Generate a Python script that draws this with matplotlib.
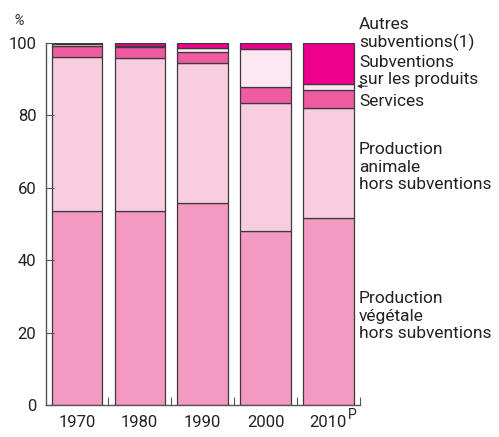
import numpy as np
import matplotlib.pyplot as plt

plt.rcParams['font.family'] = ['Roboto', 'DejaVu Sans']

# Données (% de la production)
annees = ["1970", "1980", "1990", "2000", "2010"]
suffixe_provisoire = "P"
vegetale = [53.6, 53.5, 55.8, 48.0, 51.5]
animale = [42.6, 42.2, 38.5, 35.4, 30.6]
services = [3.0, 3.1, 3.2, 4.5, 4.9]
subv_produits = [0.5, 0.3, 1.0, 10.3, 1.5]
autres_subv = [0.3, 0.9, 1.5, 1.8, 11.5]

series = [vegetale, animale, services, subv_produits, autres_subv]
couleurs = ["#f49ac2", "#f9cde0", "#ef5ba1", "#fde8f1", "#ec008c"]

fig = plt.figure(figsize=(4.99, 4.37), dpi=100)
ax = fig.add_axes([0.0922, 0.0732, 0.629, 0.829])

x = np.arange(len(annees))
bas = np.zeros(len(annees))
for vals, c in zip(series, couleurs):
    ax.bar(x, vals, bottom=bas, width=0.8, color=c, edgecolor="#3a3a3a", linewidth=0.9)
    bas += np.array(vals)

ax.set_xlim(-0.49, 4.5)
ax.set_ylim(0, 100)
for s in ["top", "right"]:
    ax.spines[s].set_visible(False)
for s in ["left", "bottom"]:
    ax.spines[s].set_color("#555555")
    ax.spines[s].set_linewidth(1.0)

ax.set_yticks([0, 20, 40, 60, 80, 100])
ax.tick_params(axis="y", direction="in", length=6, width=0.8, color="#555555",
               labelsize=12, pad=7, labelcolor="#222222")
ax.set_xticks(x)
ax.set_xticklabels(annees)
ax.tick_params(axis="x", length=0, labelsize=12, pad=7, labelcolor="#222222")
ax.set_xticks(np.arange(0.5, 5, 1), minor=True)
ax.tick_params(axis="x", which="minor", direction="in", length=6, width=0.8, color="#555555")

# exposant "P" de 2010
ax.annotate(suffixe_provisoire, xy=(x[-1], 0), xycoords="data",
            xytext=(13.8, -7), textcoords="offset points",
            fontsize=10, ha="left", va="center", color="#222222",
            annotation_clip=False)

fig.text(0.028, 0.953, "%", fontsize=11, style="italic", va="center", color="#333333")

# Légende à droite
lx = 359 / 499
def lab(y, txt):
    fig.text(lx, 1 - y / 437, txt, fontsize=12.5, va="center", ha="left",
             linespacing=1.2, color="#222222")

lab(34, "Autres\nsubventions(1)")
lab(71, "Subventions\nsur les produits")
lab(101, "Services")
lab(167, "Production\nanimale\nhors subventions")
lab(316, "Production\nvégétale\nhors subventions")

ax.annotate("", xy=(4.41, 88.0), xytext=(4.66, 88.0),
            arrowprops=dict(arrowstyle="-|>", color="#333333", lw=0.8,
                            mutation_scale=6), annotation_clip=False)

fig.savefig("out.png", dpi=100)
